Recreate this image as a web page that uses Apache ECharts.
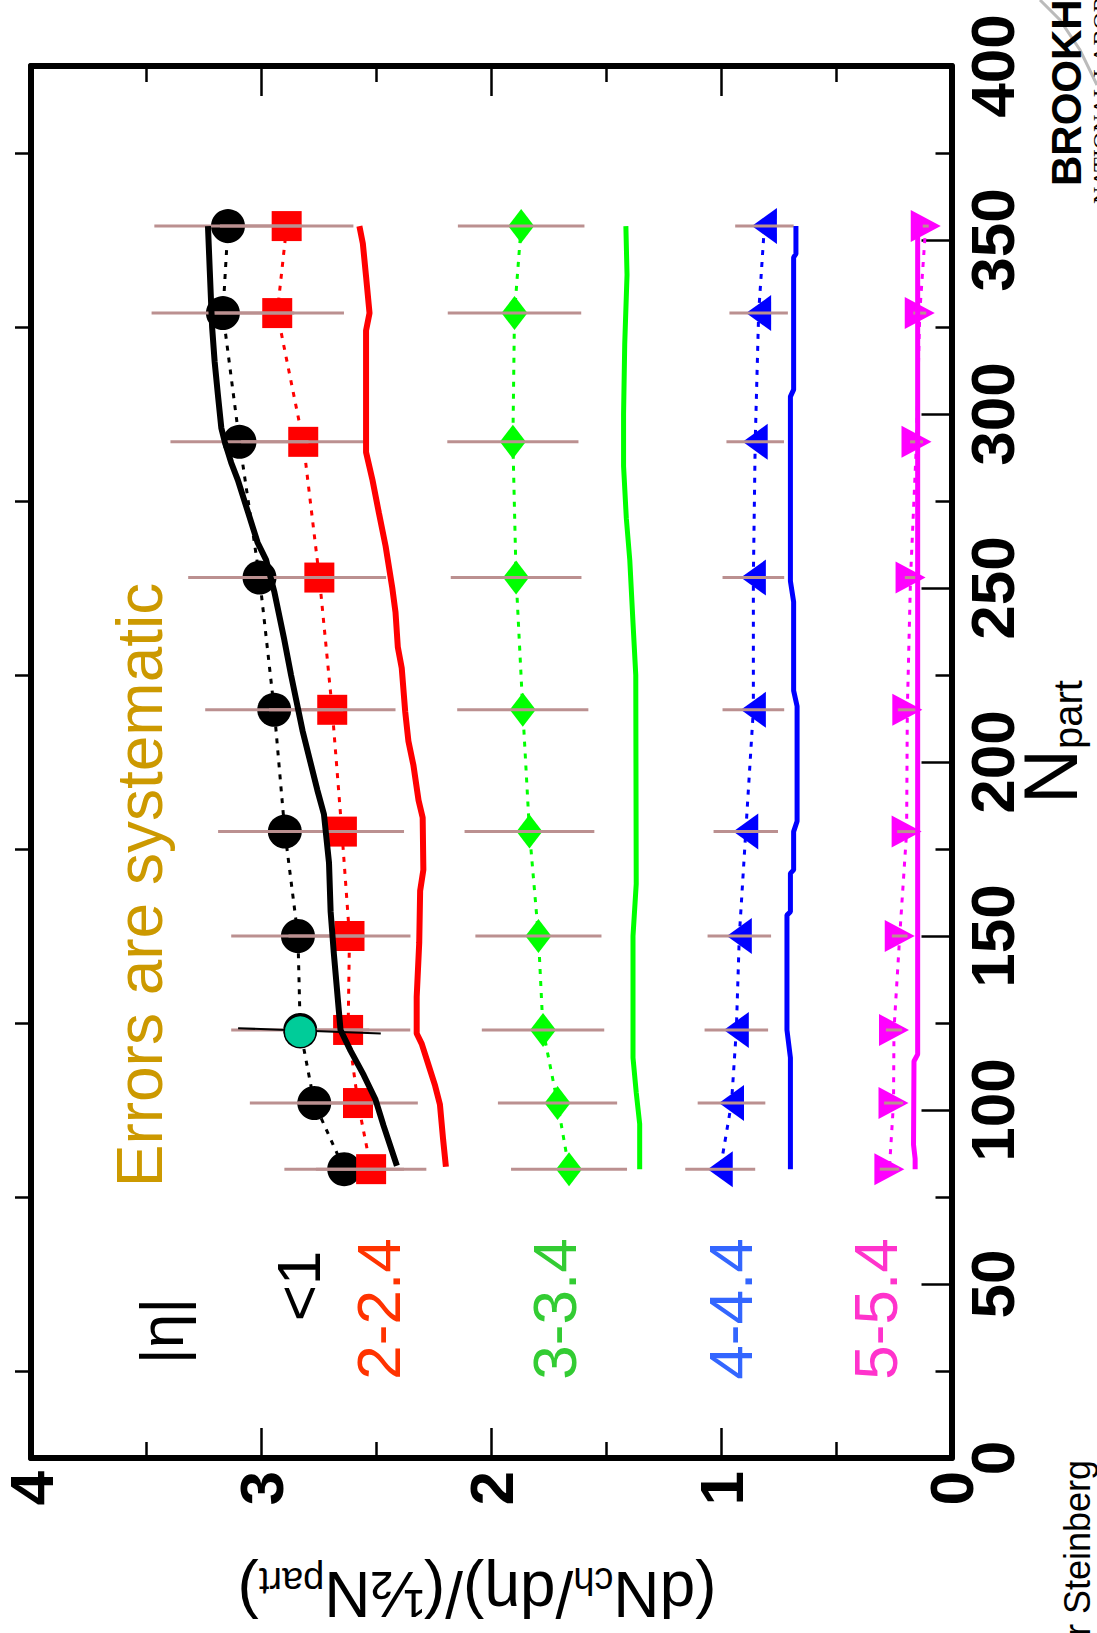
<!DOCTYPE html>
<html>
<head>
<meta charset="utf-8">
<script src="https://cdn.jsdelivr.net/npm/echarts@6/dist/echarts.min.js"></script>
<style>
  html, body { margin: 0; padding: 0; background: #fff; }
  #chart { width: 1097px; height: 1633px; }
</style>
</head>
<body>
<div id="chart"></div>
<script>
// Charged-particle density per participant pair versus N_part,
// in five pseudorapidity bins. The page is laid out sideways:
// N_part runs up the right edge, the density runs right-to-left along the bottom.

const npart = [354, 329, 292, 253, 215, 180, 150, 123, 102, 83];

const etaLt1 = [3.144, 3.166, 3.094, 3.007, 2.943, 2.897, 2.840, 2.830, 2.769, 2.639];
const eta2   = [2.889, 2.930, 2.817, 2.747, 2.691, 2.649, 2.616, 2.622, 2.579, 2.522];
const eta3   = [1.870, 1.899, 1.906, 1.892, 1.863, 1.834, 1.795, 1.775, 1.712, 1.662];
const eta4   = [0.813, 0.838, 0.853, 0.861, 0.861, 0.894, 0.922, 0.935, 0.956, 1.005];
const eta5   = [0.112, 0.138, 0.152, 0.178, 0.192, 0.195, 0.225, 0.250, 0.252, 0.270];

// systematic uncertainties (half-widths)
const errLt1 = [0.32, 0.31, 0.30, 0.31, 0.30, 0.29, 0.29, 0.30, 0.28, 0.26];
const err2   = [0.29, 0.29, 0.27, 0.29, 0.275, 0.27, 0.265, 0.27, 0.26, 0.24];
const err3   = [0.275, 0.29, 0.285, 0.284, 0.285, 0.282, 0.274, 0.266, 0.259, 0.252];
const err4   = [0.127, 0.127, 0.125, 0.134, 0.134, 0.140, 0.138, 0.138, 0.147, 0.152];
const err5   = [0.013, 0.028, 0.028, 0.025, 0.041, 0.041, 0.034, 0.035, 0.041, 0.042];

// model curves: [density, N_part]
const modelLt1 = [[3.231,354],[3.223,341],[3.213,325],[3.202,315],[3.187,305],[3.173,296],[3.158,292],
  [3.130,286],[3.101,281],[3.058,272],[3.015,263],[2.978,258],[2.943,249],[2.899,235],[2.870,225],
  [2.820,209],[2.756,192],[2.727,185],[2.705,171],[2.698,157],[2.684,145],[2.655,123],[2.611,117],
  [2.554,110],[2.503,103],[2.468,95.5],[2.410,84]];
const model2 = [[2.573,354],[2.558,349],[2.544,339.5],[2.529,329],[2.544,324],[2.544,289],[2.516,281],
  [2.488,271.5],[2.459,262],[2.430,250],[2.416,243],[2.406,233],[2.389,227],[2.374,214.5],[2.360,206],
  [2.338,199],[2.316,189],[2.298,184],[2.295,169],[2.309,163],[2.313,148],[2.324,132.5],[2.324,122],
  [2.302,119],[2.273,113],[2.244,107],[2.223,101.6],[2.209,91.4],[2.197,83.7]];
const model3 = [[1.415,354],[1.410,340],[1.420,320],[1.425,300],[1.425,285],[1.413,270],[1.398,258],
  [1.384,240],[1.372,225],[1.370,165],[1.384,150],[1.384,115],[1.370,105],[1.355,96],[1.355,83]];
const model4 = [[0.676,354],[0.676,346],[0.686,345],[0.686,307],[0.700,305],[0.700,252],[0.686,246],
  [0.686,220.5],[0.671,216],[0.671,183],[0.686,180],[0.686,169],[0.700,168],[0.700,157],[0.715,156],
  [0.715,123],[0.700,115],[0.700,83]];
const model5 = [[0.147,356],[0.147,116],[0.163,114],[0.165,90],[0.158,86],[0.158,83]];

// single comparison point at N_part ~ 123 and its error bar
const refPoint = [[2.83, 122.5]];
const refBar = [[3.10, 123.5], [2.48, 122.0]];

const yTicks = ['0', '1', '2', '3', '4'];

const FONT = 'Liberation Sans';
const BAR = '#bb9090';

function pts(vals) { return vals.map((v, i) => [v, npart[i]]); }
function bars(vals, errs) { return vals.map((v, i) => [v, npart[i], errs[i]]); }

function dataSeries(name, vals, color, symbol, size, rot) {
  return {
    name, type: 'line', data: pts(vals), z: 2,
    symbol, symbolSize: size, symbolRotate: rot || 0,
    itemStyle: { color, opacity: 1 },
    lineStyle: { color, width: 3, type: [5, 7] },
    silent: true
  };
}
function modelSeries(data, color, width) {
  return {
    type: 'line', data, z: 4, symbol: 'none', silent: true,
    lineStyle: { color, width }
  };
}
function barSeries(vals, errs) {
  return {
    type: 'custom', z: 3, silent: true,
    data: bars(vals, errs),
    encode: { x: 0, y: 1 },
    renderItem(params, api) {
      const v = api.value(0), n = api.value(1), e = api.value(2);
      const a = api.coord([v - e, n]), b = api.coord([v + e, n]);
      return { type: 'line', shape: { x1: a[0], y1: a[1], x2: b[0], y2: b[1] },
               style: { stroke: BAR, lineWidth: 3 } };
    }
  };
}

const valueAxisBase = {
  type: 'value', min: 0, max: 4, interval: 1, inverse: true,
  splitLine: { show: false },
  axisLine: { show: true, onZero: false, lineStyle: { color: '#000', width: 6 } },
  axisTick: { show: true, inside: true, length: 30, lineStyle: { color: '#000', width: 2.5 } },
  minorTick: { show: true, splitNumber: 2, length: 16, lineStyle: { color: '#000', width: 2.5 } },
  minorSplitLine: { show: false }
};
const npartAxisBase = {
  type: 'value', min: 0, max: 400, interval: 50,
  splitLine: { show: false },
  axisLine: { show: true, onZero: false, lineStyle: { color: '#000', width: 6 } },
  axisTick: { show: true, inside: true, length: 30, lineStyle: { color: '#000', width: 2.5 } },
  minorTick: { show: true, splitNumber: 2, length: 16, lineStyle: { color: '#000', width: 2.5 } },
  minorSplitLine: { show: false }
};

const chart = echarts.init(document.getElementById('chart'), null, { renderer: 'svg' });

function rotText(x, y, text, size, color, opts) {
  opts = opts || {};
  return {
    type: 'text', x, y, rotation: opts.rotation !== undefined ? opts.rotation : Math.PI / 2,
    z: 10, silent: true,
    style: {
      text, fill: color, fontSize: size, fontFamily: opts.family || FONT,
      fontWeight: opts.weight || 'normal',
      textAlign: opts.align || 'center', textVerticalAlign: 'middle',
      rich: opts.rich
    }
  };
}

const subRich = (main, sub, pad) => ({
  m: { fontSize: main, fontFamily: FONT, lineHeight: main, verticalAlign: 'top', fill: '#000' },
  s: { fontSize: sub, fontFamily: FONT, lineHeight: sub, verticalAlign: 'bottom', padding: [pad, 0, 0, 0], fill: '#000' }
});

chart.setOption({
  animation: false,
  backgroundColor: '#fff',
  grid: { left: 25, right: 145.5, top: 66, bottom: 175, containLabel: false },
  xAxis: [
    Object.assign({}, valueAxisBase, {
      position: 'bottom',
      axisLabel: {
        show: true, rotate: 90, margin: 13, fontSize: 62, fontWeight: 'bold',
        fontFamily: FONT, color: '#000',
        formatter: (v) => yTicks[Math.round(v)]
      }
    }),
    Object.assign({}, valueAxisBase, { position: 'top', axisLabel: { show: false } })
  ],
  yAxis: [
    Object.assign({}, npartAxisBase, {
      position: 'right',
      axisLabel: { show: true, rotate: 90, margin: 10, fontSize: 62, fontWeight: 'bold',
                   fontFamily: FONT, color: '#000' }
    }),
    Object.assign({}, npartAxisBase, {
      position: 'left', axisLabel: { show: false },
      axisTick: { show: false }
    })
  ],
  series: [
    dataSeries('|η|<1', etaLt1, '#000000', 'circle', 34),
    dataSeries('2-2.4', eta2, '#ff0000', 'rect', 30),
    dataSeries('3-3.4', eta3, '#00ff00', 'diamond', [26, 34]),
    dataSeries('4-4.4', eta4, '#0000ff', 'triangle', [36, 25], 90),
    dataSeries('5-5.4', eta5, '#ff00ff', 'triangle', [32, 30], -90),

    barSeries(etaLt1, errLt1),
    barSeries(eta2, err2),
    barSeries(eta3, err3),
    barSeries(eta4, err4),
    barSeries(eta5, err5),

    modelSeries(modelLt1, '#000000', 6),
    modelSeries(model2, '#ff0000', 6),
    modelSeries(model3, '#00ff00', 5),
    modelSeries(model4, '#0000ff', 5),
    modelSeries(model5, '#ff00ff', 5),

    { type: 'line', data: refBar, z: 5, symbol: 'none', silent: true,
      lineStyle: { color: '#000', width: 2 } },
    { type: 'scatter', data: refPoint, z: 6, symbol: 'circle', symbolSize: 32, silent: true,
      itemStyle: { color: '#00cc99', opacity: 1, borderColor: '#000', borderWidth: 1.5 } }
  ],
  graphic: [
    // axis titles
    rotText(477, 1594, '{m|(dN}{s|ch}{m|/dη)/(½N}{s|part}{m|)}', 64, '#000',
            { rotation: Math.PI, rich: subRich(64, 38, 56) }),
    rotText(1050, 742, '{m|N}{s|part}', 76, '#000', { rich: subRich(76, 40, 36) }),
    // bin labels
    rotText(161, 1331, '|η|', 62, '#000'),
    rotText(298, 1286, '<1', 62, '#000'),
    rotText(378, 1309, '2-2.4', 62, '#ff3300'),
    rotText(554, 1309, '3-3.4', 62, '#33cc33'),
    rotText(730, 1309, '4-4.4', 62, '#3366ff'),
    rotText(875, 1309, '5-5.4', 62, '#ff33cc'),
    rotText(140, 885, 'Errors are systematic', 64, '#cc9900'),
    // lab mark and author line at the page edge
    { type: 'polyline', silent: true, z: 1,
      shape: { points: [[1040, 0], [1060, 20], [1080, 50], [1097, 85]] },
      style: { stroke: '#bbbbbb', lineWidth: 3, fill: null } },
    rotText(1066, 186, 'BROOKHAVEN', 42, '#000', { align: 'left', weight: 'bold' }),
    rotText(1101, 204, 'NATIONAL LABORATORY', 24, '#000', { align: 'left', family: 'Liberation Serif' }),
    rotText(1077, 1460, 'Peter Steinberg', 36, '#000', { align: 'right' })
  ]
});
</script>
</body>
</html>
